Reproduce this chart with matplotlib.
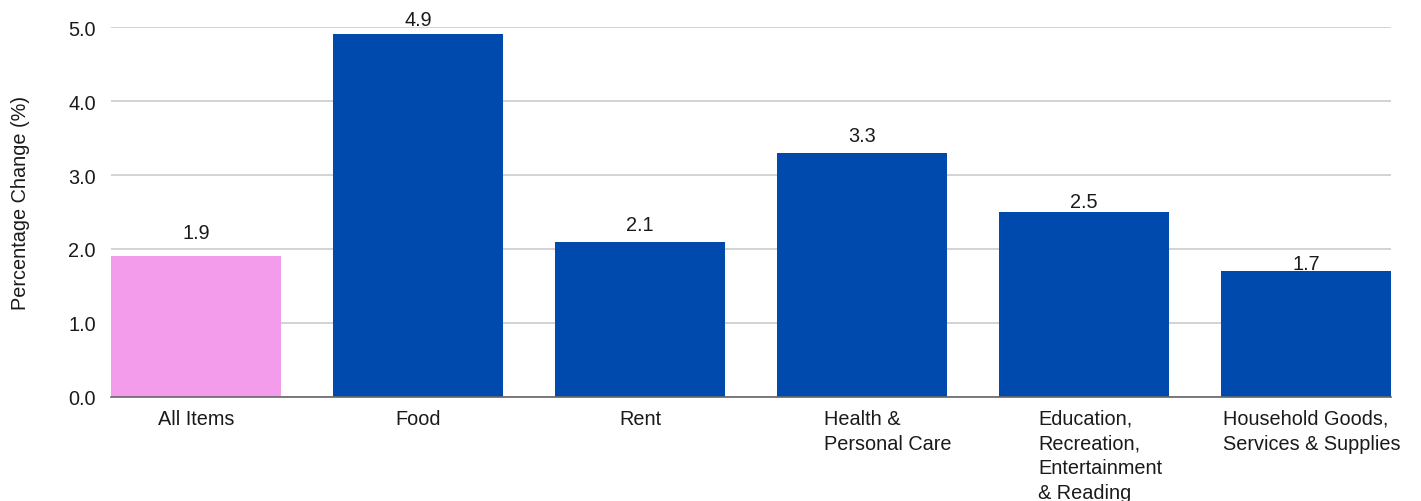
import matplotlib
matplotlib.use("Agg")
import matplotlib.pyplot as plt
import matplotlib.transforms as mtransforms

categories = ["All Items", "Food", "Rent", "Health &\nPersonal Care",
              "Education,\nRecreation,\nEntertainment\n& Reading",
              "Household Goods,\nServices & Supplies"]
values = [1.9, 4.9, 2.1, 3.3, 2.5, 1.7]
colors = ["#F49CEC", "#004AAD", "#004AAD", "#004AAD", "#004AAD", "#004AAD"]
yticks = [0.0, 1.0, 2.0, 3.0, 4.0, 5.0]

FS = 14.3
plt.rcParams['font.family'] = ['Liberation Sans', 'DejaVu Sans']
fig = plt.figure(figsize=(14.21, 5.02), dpi=100)
ax = fig.add_axes([111/1421, 1-398/502, 1280/1421, 370/502])

w = 0.766
x = list(range(len(categories)))
ax.bar(x, values, width=w, color=colors, zorder=2)

# gap (points) between bar top and value-label baseline, as placed in the reference
label_gap = [13.2, 6.8, 8.4, 8.5, 3.6, 1.6]
for xi, v, g in zip(x, values, label_gap):
    ax.annotate(f"{v:.1f}", (xi, v), xytext=(0, g), textcoords="offset points",
                ha="center", va="baseline", fontsize=FS, color="#1a1a1a", zorder=3)

ax.set_xlim(-w/2, len(categories)-1+w/2)
ax.set_ylim(0, 5.0)
ax.set_yticks(yticks)
ax.set_yticklabels([f"{t:.1f}" for t in yticks], fontsize=FS, color="#1a1a1a")
ax.set_xticks(x)
ax.set_xticklabels(categories, fontsize=FS, color="#1a1a1a", multialignment="left",
                   linespacing=1.38)
ax.tick_params(axis="both", length=0)
ax.tick_params(axis="y", pad=11)
ax.tick_params(axis="x", pad=8.5)

# horizontal offsets (points) of the wrapped labels, as in the reference
label_shift = [0, 0, 0, 18.7, 11.5, 4.3]
for lab, dx in zip(ax.get_xticklabels(), label_shift):
    lab.set_transform(lab.get_transform() +
                      mtransforms.ScaledTranslation(dx/72, 0, fig.dpi_scale_trans))

ax.grid(axis="y", color="#CCCCCC", linewidth=1.2, zorder=0)
ax.set_axisbelow(True)
for s in ["top", "right", "left"]:
    ax.spines[s].set_visible(False)
ax.spines["bottom"].set_color("#666666")
ax.spines["bottom"].set_linewidth(1.2)
ax.spines["bottom"].set_zorder(3)
ax.set_ylabel("Percentage Change (%)", fontsize=FS, color="#1a1a1a")
ax.yaxis.set_label_coords(-(111-30)/1280, 0.527)

fig.savefig("out.png", dpi=100)
